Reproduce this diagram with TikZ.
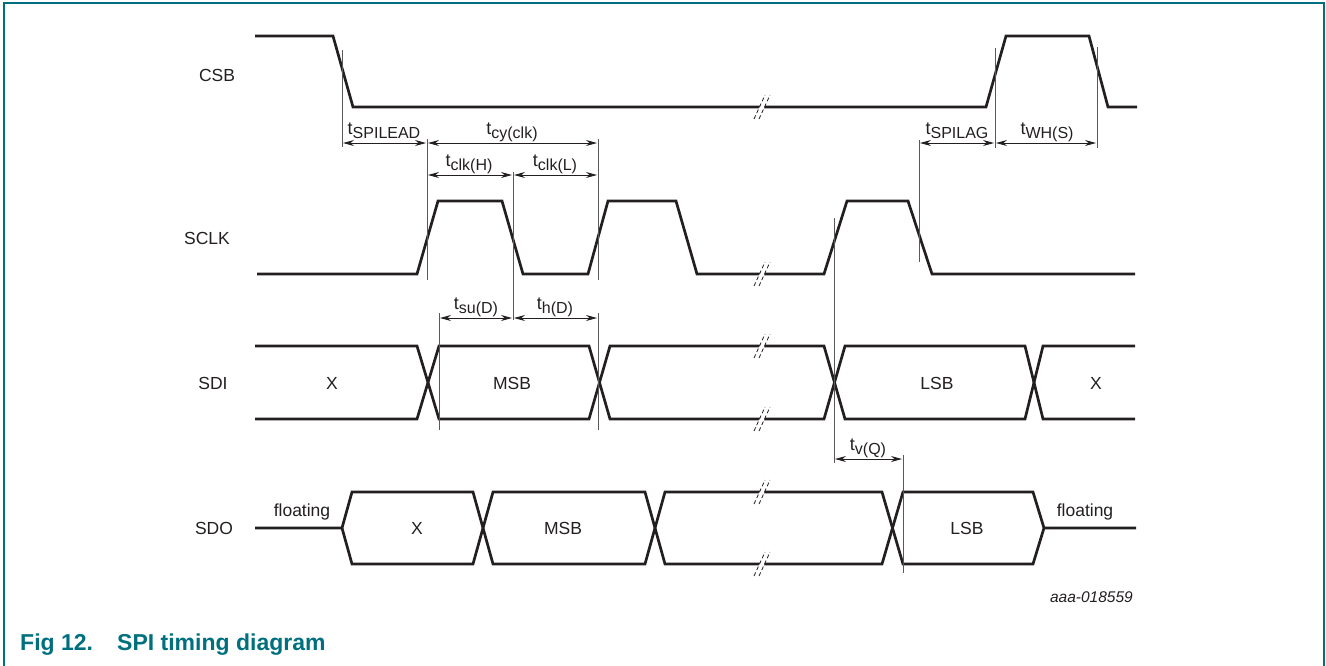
\documentclass[tikz,border=0pt]{standalone}
\usepackage{fontspec}
\setmainfont{Liberation Sans}
\usetikzlibrary{arrows.meta}
\definecolor{nxpteal}{RGB}{0,112,127}
\definecolor{ink}{RGB}{35,31,32}
\newcommand\tsub[1]{t\raisebox{-4pt}{\fontsize{16}{16}\selectfont #1}}
\begin{document}
\begin{tikzpicture}[x=1pt,y=-1pt,
  sig/.style={line width=2.7pt,ink,line join=miter,line cap=butt},
  guide/.style={line width=0.8pt,black!65},
  dimarrow/.style={line width=0.9pt,ink,{Stealth[length=11pt,width=6pt]}-{Stealth[length=11pt,width=6pt]}},
  lbl/.style={font=\fontsize{17.5}{20}\selectfont,text=ink,inner sep=0pt},
  tl/.style={font=\fontsize{18}{20}\selectfont,text=ink,inner sep=0pt,anchor=base},
  brkdash/.style={line width=0.8pt,ink,dash pattern=on 4pt off 2.5pt}]
\useasboundingbox (0,0) rectangle (1326,665);
% frame
\draw[nxpteal,line width=2.2pt] (4,666) -- (4,3) -- (1324,3) -- (1324,666);
\node[anchor=base west,font=\fontsize{23}{26}\selectfont\bfseries,text=nxpteal,inner sep=0pt] (cap) at (20,650) {Fig 12.\hspace{1.05em}SPI timing diagram};
% signal names
\node[lbl] (nCSB) at (217,75) {CSB};
\node[lbl] (nSCLK) at (207,238) {SCLK};
\node[lbl] (nSDI) at (213,383) {SDI};
\node[lbl] (nSDO) at (214,528) {SDO};
% CSB
\draw[sig] (255,36) -- (333,36) -- (353,107) -- (986,107) -- (1006,36) -- (1089,36) -- (1108,107) -- (1137,107);
% SCLK
\draw[sig] (257,274) -- (417,274) -- (438,201) -- (502,201) -- (523,274) -- (588,274) -- (608,201) -- (676,201) -- (697,274) -- (824,274) -- (847,201) -- (908,201) -- (932,274) -- (1135,274);
% SDI
\draw[sig] (255,346) -- (417,346) -- (439,419) -- (589,419) -- (610,346) -- (824,346) -- (845,419) -- (1025,419) -- (1043,346) -- (1135,346);
\draw[sig] (255,419) -- (417,419) -- (439,346) -- (589,346) -- (610,419) -- (824,419) -- (845,346) -- (1025,346) -- (1043,419) -- (1135,419);
\node[lbl] (sdiX1) at (332,383) {X};
\node[lbl] (sdiMSB) at (512,383) {MSB};
\node[lbl] (sdiLSB) at (937,383) {LSB};
\node[lbl] (sdiX2) at (1096,383) {X};
% SDO
\draw[sig] (255,528) -- (342,528) -- (352,492) -- (473,492) -- (493,564) -- (645,564) -- (665,492) -- (882,492) -- (903,564) -- (1033,564) -- (1044,528) -- (1136,528);
\draw[sig] (342,528) -- (352,564) -- (473,564) -- (493,492) -- (645,492) -- (665,564) -- (882,564) -- (903,492) -- (1033,492) -- (1044,528);
\node[lbl] (fl1) at (302,512) {floating};
\node[lbl] (sdoX) at (417,528) {X};
\node[lbl] (sdoMSB) at (563,528) {MSB};
\node[lbl] (sdoLSB) at (967,528) {LSB};
\node[lbl] (fl2) at (1085,512) {floating};
% break marks
\foreach \bx/\by in {762/107, 762/274, 762/346, 762/419, 762/492, 762/564}{
  \fill[white] (\bx-8,\by+12) -- (\bx+3,\by-12) -- (\bx+8,\by-12) -- (\bx-3,\by+12) -- cycle;
  \draw[brkdash] (\bx-8,\by+12) -- (\bx+3,\by-12);
  \draw[brkdash] (\bx-3,\by+12) -- (\bx+8,\by-12);
}
% guide lines
\draw[guide] (342,50) -- (342,147);
\draw[guide] (427,139) -- (427,280);
\draw[guide] (598,139) -- (598,280);
\draw[guide] (598,313) -- (598,430);
\draw[guide] (513,172) -- (513,320);
\draw[guide] (439,313) -- (439,430);
\draw[guide] (834,218) -- (834,463);
\draw[guide] (919,140) -- (919,262);
\draw[guide] (995,48) -- (995,148);
\draw[guide] (1097,47) -- (1097,148);
\draw[guide] (903,455) -- (903,573);
% dimension arrows
\draw[dimarrow] (343,143) -- (426,143);
\node[tl] (lSL) at (384,134) {\tsub{SPILEAD}};
\draw[dimarrow] (428,143) -- (597,143);
\node[tl] (lcy) at (512,134) {\tsub{cy(clk)}};
\draw[dimarrow] (428,175) -- (512,175);
\node[tl] (lH) at (469,166) {\tsub{clk(H)}};
\draw[dimarrow] (514,175) -- (597,175);
\node[tl] (lL) at (555,166) {\tsub{clk(L)}};
\draw[dimarrow] (440,318) -- (512,318);
\node[tl] (lsu) at (476,309) {\tsub{su(D)}};
\draw[dimarrow] (514,318) -- (597,318);
\node[tl] (lh) at (555,309) {\tsub{h(D)}};
\draw[dimarrow] (920,143) -- (994,143);
\node[tl] (lLAG) at (957,134) {\tsub{SPILAG}};
\draw[dimarrow] (996,143) -- (1096,143);
\node[tl] (lWH) at (1047,134) {\tsub{WH(S)}};
\draw[dimarrow] (835,459) -- (902,459);
\node[tl] (lv) at (868,450) {\tsub{v(Q)}};
% id
\node[anchor=base east,font=\fontsize{15.5}{18}\selectfont\itshape,text=ink,inner sep=0pt] (id) at (1133,602) {aaa-018559};
\end{tikzpicture}
\end{document}
